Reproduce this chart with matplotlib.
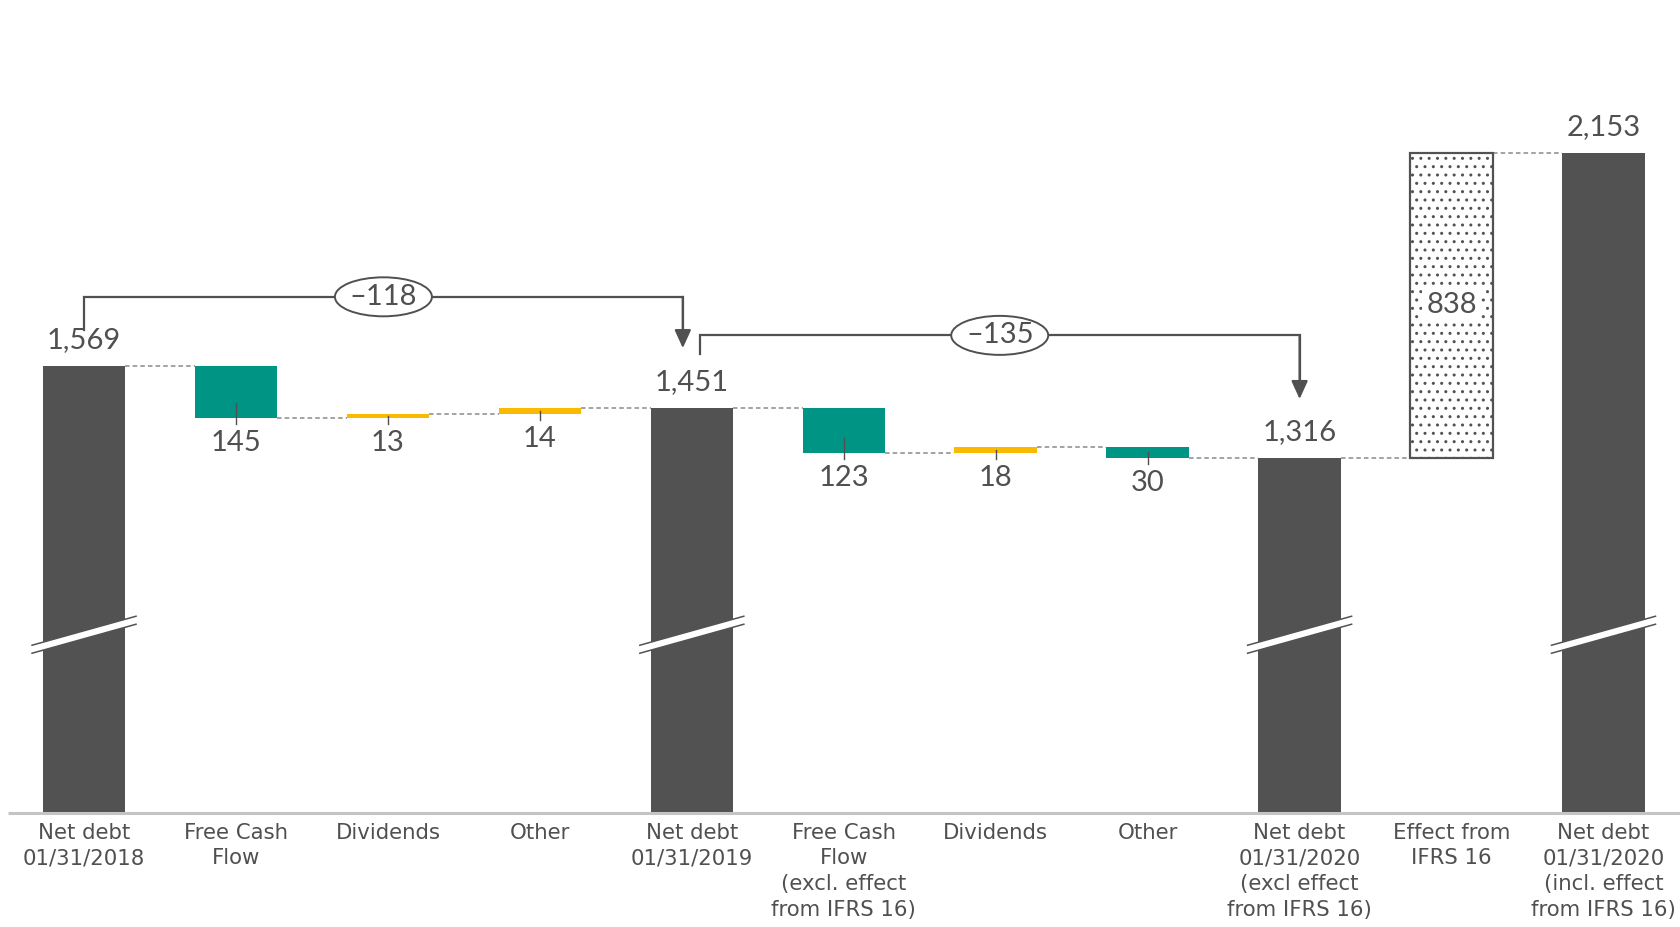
import matplotlib
matplotlib.use("Agg")
import matplotlib.pyplot as plt
from matplotlib.patches import Ellipse, Polygon

# ---------------- data ----------------
categories = [
    "Net debt\n01/31/2018",
    "Free Cash\nFlow",
    "Dividends",
    "Other",
    "Net debt\n01/31/2019",
    "Free Cash\nFlow\n(excl. effect\nfrom IFRS 16)",
    "Dividends",
    "Other",
    "Net debt\n01/31/2020\n(excl effect\nfrom IFRS 16)",
    "Effect from\nIFRS 16",
    "Net debt\n01/31/2020\n(incl. effect\nfrom IFRS 16)",
]
values = [1569, -145, 13, 14, 1451, -123, 18, -30, 1316, 838, 2153]
kinds = ["total", "change", "change", "change", "total",
         "change", "change", "change", "total", "ifrs", "total"]
bracket_from = [0, 4]
bracket_to = [4, 8]
bracket_values = [-118, -135]

# ---------------- style ----------------
DARK = "#525252"
TEAL = "#009485"
YELLOW = "#FBB900"
TXT = "#505050"
AXIS = "#c4c4c4"
DASH = "#8a8a8a"
NUM_FONT = ["Lato", "DejaVu Sans"]
CAT_FONT = ["DejaVu Sans"]

W_PX, H_PX = 1681, 927
fig = plt.figure(figsize=(W_PX / 100, H_PX / 100), dpi=100)
ax_bottom = 0.1234
ax = fig.add_axes([0, ax_bottom, 1, 1 - ax_bottom])
Y0, Y1 = 340, 2574
X0, X1 = -0.553, 10.51
ax.set_xlim(X0, X1)
ax.set_ylim(Y0, Y1)
ax.axis("off")

PX = (Y1 - Y0) / (H_PX * (1 - ax_bottom))   # data units per pixel (y)
PXX = (X1 - X0) / W_PX                       # data units per pixel (x)
BW = 0.543

# ---------------- waterfall geometry ----------------
bottoms, heights, colors, ends = [], [], [], []
level = 0
for v, k in zip(values, kinds):
    if k == "total":
        b, h, c = Y0, v - Y0, DARK
        level = v
    elif k == "change":
        start = level
        level = start + v
        b, h = min(start, level), abs(v)
        c = TEAL if v < 0 else YELLOW
    else:
        start = level
        level = start + v
        b, h, c = start, v, "white"
    bottoms.append(b)
    heights.append(h)
    colors.append(c)
    ends.append(level)

xs = list(range(len(values)))

for x, b, h, c, k in zip(xs, bottoms, heights, colors, kinds):
    if k == "ifrs":
        ax.bar(x, h, bottom=b, width=BW, facecolor="white", edgecolor=DARK,
               hatch="..", linewidth=1.6, zorder=2)
    else:
        ax.bar(x, h, bottom=b, width=BW, color=c, linewidth=0, zorder=2)

# dashed connectors
for i in range(len(values) - 1):
    y = ends[i]
    ax.plot([xs[i] + BW / 2, xs[i + 1] - BW / 2], [y, y], color=DASH,
            lw=1.1, ls=(0, (3, 2)), zorder=1)

# baseline
ax.plot([X0 + 8 * PXX, X1], [Y0, Y0], color=AXIS, lw=2.2, clip_on=False,
        zorder=3, solid_capstyle="butt")

# value labels
for x, v, k, b, h in zip(xs, values, kinds, bottoms, heights):
    if k == "total":
        ax.text(x, v + 26 * PX, f"{v:,}", ha="center", va="center",
                fontsize=21, color=TXT, family=NUM_FONT, zorder=5)
    elif k == "change":
        top_line = b + min(15 * PX, h / 2)
        ax.plot([x, x], [top_line, b - 6 * PX], color=TXT, lw=1.0, zorder=4)
        ax.text(x, b - 25 * PX, f"{abs(v):,}", ha="center", va="center",
                fontsize=21, color=TXT, family=NUM_FONT, zorder=5)
    else:
        ax.text(x, b + h / 2, f"{v:,}", ha="center", va="center",
                fontsize=21, color=TXT, family=NUM_FONT, zorder=5,
                bbox=dict(boxstyle="square,pad=0.15", fc="white", ec="none"))

# break marks on total bars
YB = 829
half_len = 52 * PXX
half_rise = 14.5 * PX
gap = 4 * PX
for x, k in zip(xs, kinds):
    if k != "total":
        continue
    xl, xr = x - half_len, x + half_len
    yl, yr = YB - half_rise, YB + half_rise
    poly = Polygon([(xl, yl - gap), (xr, yr - gap), (xr, yr + gap), (xl, yl + gap)],
                   closed=True, fc="white", ec="none", zorder=3)
    ax.add_patch(poly)
    ax.plot([xl, xr], [yl - gap, yr - gap], color=DARK, lw=1.1, zorder=3)
    ax.plot([xl, xr], [yl + gap, yr + gap], color=DARK, lw=1.1, zorder=3)

# category labels
for x, cat in zip(xs, categories):
    ax.text(x, Y0 - 10 * PX, cat, ha="center", va="top", fontsize=15.3,
            color=TXT, family=CAT_FONT, linespacing=1.36, multialignment="center")

# brackets with difference ellipses
bracket_rise = [189, 201]
left_drop = [92, 51]
tip_above = [166, 161]
x_shift_left = [0, 8]
x_shift_right = [-9, 0]
for i, (a, bb, dv) in enumerate(zip(bracket_from, bracket_to, bracket_values)):
    va_, vb_ = values[a], values[bb]
    yb = va_ + bracket_rise[i]
    xl = xs[a] + x_shift_left[i] * PXX
    xr = xs[bb] + x_shift_right[i] * PXX
    ax.plot([xl, xl, xr, xr], [yb - left_drop[i], yb, yb, vb_ + tip_above[i] + 14 * PX],
            color=TXT, lw=1.6, zorder=4, solid_joinstyle="miter")
    ax.annotate("", xy=(xr, vb_ + tip_above[i]), xytext=(xr, yb),
                arrowprops=dict(arrowstyle="-|>,head_length=1.1,head_width=0.5",
                                color=TXT, lw=1.6, shrinkA=0, shrinkB=0,
                                mutation_scale=10), zorder=4)
    xc = (xl + xr) / 2
    ell = Ellipse((xc, yb), 97 * PXX, 39 * PX, fc="white", ec=TXT, lw=1.4, zorder=5)
    ax.add_patch(ell)
    ax.text(xc, yb, f"\u2013{abs(dv)}", ha="center", va="center", fontsize=21,
            color=TXT, family=NUM_FONT, zorder=6)

fig.savefig("out.png", dpi=100)
